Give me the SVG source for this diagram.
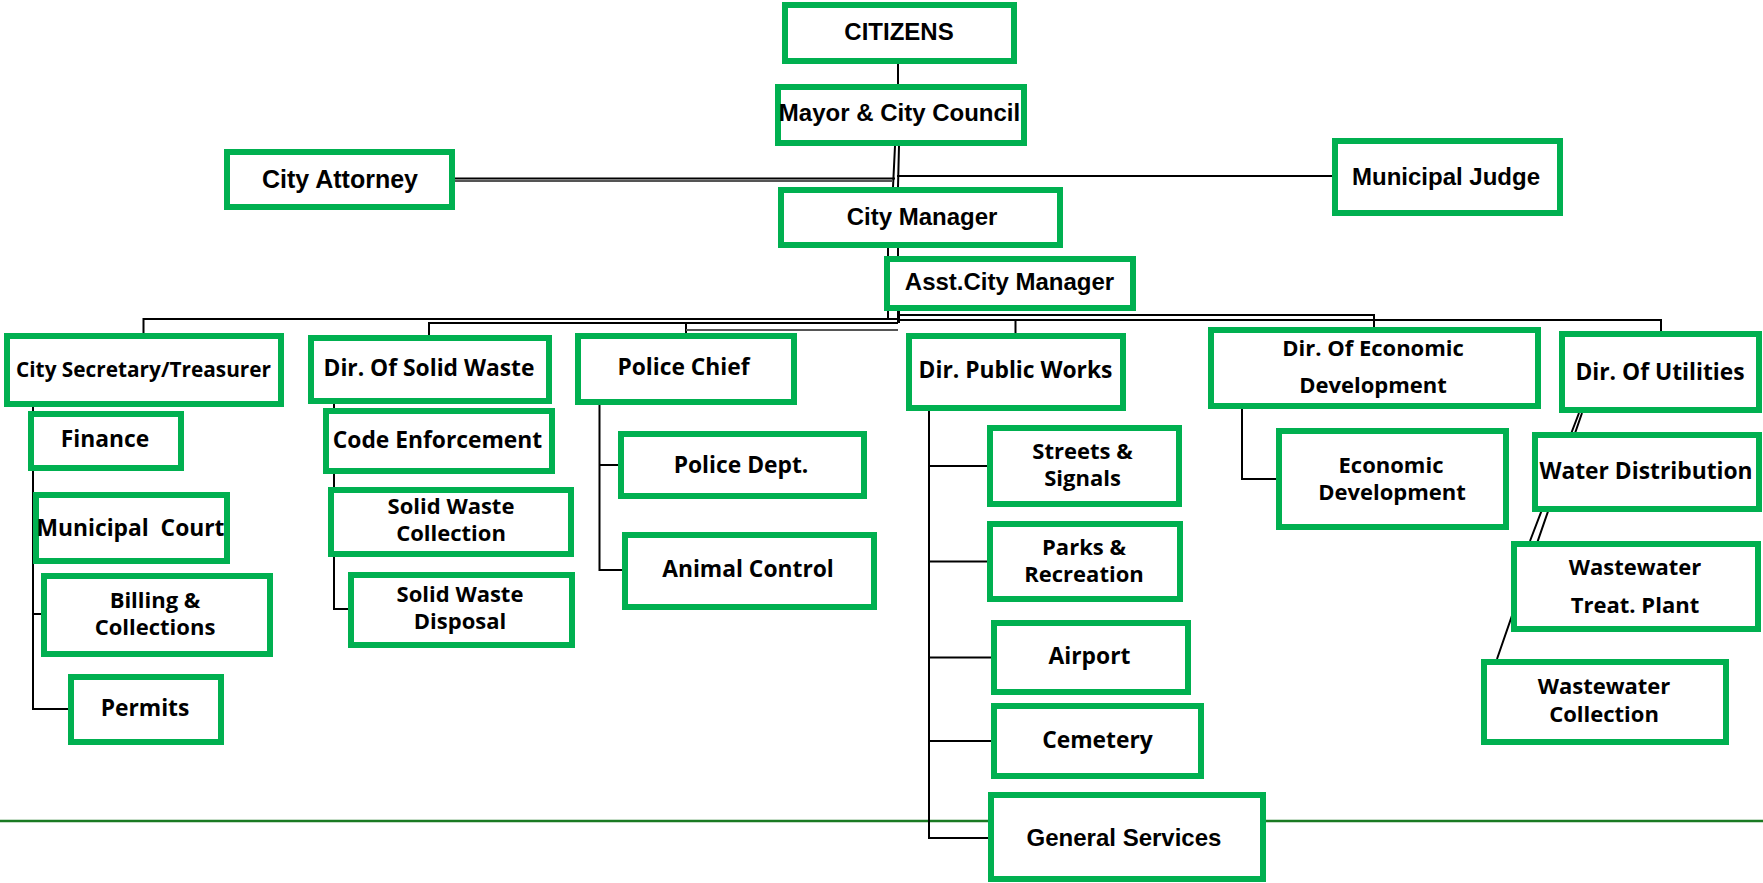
<svg xmlns="http://www.w3.org/2000/svg" width="1763" height="883" viewBox="0 0 1763 883">
<style>
.bx{fill:#fff;stroke:#00b050;stroke-width:6}
.ln{stroke:#000;stroke-width:2;fill:none}
.lg{stroke:#555;stroke-width:2;fill:none}
.t{font-family:"Open Sans","Liberation Sans",sans-serif;font-weight:700;font-size:22px;fill:#000;text-anchor:middle}
.s{font-size:22.8px}
.c{font-family:"Liberation Sans",Arial,sans-serif;font-weight:700;font-size:24px;fill:#000;text-anchor:middle}
</style>
<rect width="1763" height="883" fill="#fff"/>
<line x1="0" y1="821" x2="1763" y2="821" stroke="#1a7a22" stroke-width="2.5"/>
<g id="connectors">
<path class="ln" d="M898 64V84"/>
<path class="ln" d="M895 146L893 187M899 146L898 187"/>
<path class="ln" d="M455 178.5H895"/>
<path class="lg" d="M455 181H893" stroke-width="1"/>
<path class="ln" d="M897 176H1332"/>
<path class="ln" d="M888 248V319M898 248V323M899 311V323"/>
<path class="ln" d="M143.5 333V319H898"/>
<path class="ln" d="M429 335V323H898"/>
<path class="ln" d="M686 333V323"/>
<path class="lg" d="M686 330H898"/>
<path class="ln" d="M899 315H1374V327"/>
<path class="ln" d="M899 320H1661V331"/>
<path class="ln" d="M1015.5 320V333"/>
<path class="ln" d="M33 407V709H68M33 614H41"/>
<path class="ln" d="M334 404V609H348"/>
<path class="ln" d="M599.5 405V570H622M599.5 465H618"/>
<path class="ln" d="M929 411V838H988M929 466H987M929 561.5H987M929 657.5H991M929 741H991"/>
<path class="ln" d="M1242 409V479H1276"/>
<path class="ln" d="M1579 413L1530 541M1582 413L1497 659"/>
</g>
<g id="n-citizens"><rect class="bx" x="785" y="5" width="229" height="56"/><text class="c" x="899" y="40">CITIZENS</text></g>
<g id="n-mayor"><rect class="bx" x="778" y="87" width="246" height="56"/><text class="c" x="899.5" y="121">Mayor &amp; City Council</text></g>
<g id="n-attorney"><rect class="bx" x="227" y="152" width="225" height="55"/><text class="c" x="340" y="188" style="font-size:25px">City Attorney</text></g>
<g id="n-judge"><rect class="bx" x="1335" y="141" width="225" height="72"/><text class="c" x="1446" y="185">Municipal Judge</text></g>
<g id="n-manager"><rect class="bx" x="781" y="190" width="279" height="55"/><text class="c" x="922" y="225">City Manager</text></g>
<g id="n-asst"><rect class="bx" x="887" y="259" width="246" height="49"/><text class="c" x="1009.5" y="290">Asst.City Manager</text></g>
<g id="n-secretary"><rect class="bx" x="7" y="336" width="274" height="68"/><text class="t" x="143.5" y="377" style="font-size:20.8px">City Secretary/Treasurer</text></g>
<g id="n-solidwaste"><rect class="bx" x="311" y="338" width="238" height="63"/><text class="t s" x="429" y="376">Dir. Of Solid Waste</text></g>
<g id="n-police"><rect class="bx" x="578" y="336" width="216" height="66"/><text class="t s" x="683.5" y="375">Police Chief</text></g>
<g id="n-publicworks"><rect class="bx" x="909" y="336" width="214" height="72"/><text class="t s" x="1015.5" y="378">Dir. Public Works</text></g>
<g id="n-econdir"><rect class="bx" x="1211" y="330" width="327" height="76"/><text class="t" x="1373" y="356">Dir. Of Economic</text><text class="t" x="1373" y="393">Development</text></g>
<g id="n-utilities"><rect class="bx" x="1562" y="334" width="197" height="76"/><text class="t s" x="1660" y="380">Dir. Of Utilities</text></g>
<g id="n-finance"><rect class="bx" x="31" y="414" width="150" height="54"/><text class="t s" x="105" y="447">Finance</text></g>
<g id="n-court"><rect class="bx" x="36" y="495" width="191" height="66"/><text class="t s" x="130.5" y="536" xml:space="preserve">Municipal  Court</text></g>
<g id="n-billing"><rect class="bx" x="44" y="576" width="226" height="78"/><text class="t" x="155" y="608">Billing &amp;</text><text class="t" x="155" y="635">Collections</text></g>
<g id="n-permits"><rect class="bx" x="71" y="677" width="150" height="65"/><text class="t s" x="145" y="716">Permits</text></g>
<g id="n-code"><rect class="bx" x="326" y="411" width="226" height="60"/><text class="t s" x="437.5" y="448">Code Enforcement</text></g>
<g id="n-swcollection"><rect class="bx" x="331" y="490" width="240" height="64"/><text class="t" x="451" y="514">Solid Waste</text><text class="t" x="451" y="541">Collection</text></g>
<g id="n-swdisposal"><rect class="bx" x="351" y="575" width="221" height="70"/><text class="t" x="460" y="602">Solid Waste</text><text class="t" x="460" y="629">Disposal</text></g>
<g id="n-policedept"><rect class="bx" x="621" y="434" width="243" height="62"/><text class="t s" x="741" y="473">Police Dept.</text></g>
<g id="n-animal"><rect class="bx" x="625" y="535" width="249" height="72"/><text class="t s" x="748" y="577">Animal Control</text></g>
<g id="n-streets"><rect class="bx" x="990" y="428" width="189" height="76"/><text class="t" x="1082.5" y="459">Streets &amp;</text><text class="t" x="1082.5" y="486">Signals</text></g>
<g id="n-parks"><rect class="bx" x="990" y="524" width="190" height="75"/><text class="t" x="1084" y="555">Parks &amp;</text><text class="t" x="1084" y="582">Recreation</text></g>
<g id="n-airport"><rect class="bx" x="994" y="623" width="194" height="69"/><text class="t s" x="1089.5" y="664">Airport</text></g>
<g id="n-cemetery"><rect class="bx" x="994" y="706" width="207" height="70"/><text class="t s" x="1097.5" y="748">Cemetery</text></g>
<g id="n-general"><rect class="bx" x="991" y="795" width="272" height="84"/><text class="c" x="1124" y="846">General Services</text></g>
<g id="n-econdev"><rect class="bx" x="1279" y="431" width="227" height="96"/><text class="t" x="1391" y="473">Economic</text><text class="t" x="1392" y="500">Development</text></g>
<g id="n-water"><rect class="bx" x="1535" y="435" width="224" height="74"/><text class="t s" x="1646" y="479">Water Distribution</text></g>
<g id="n-wtp"><rect class="bx" x="1514" y="544" width="244" height="85"/><text class="t" x="1635" y="575">Wastewater</text><text class="t" x="1635" y="613">Treat. Plant</text></g>
<g id="n-wwcollection"><rect class="bx" x="1484" y="662" width="242" height="80"/><text class="t" x="1604" y="694">Wastewater</text><text class="t" x="1604" y="722">Collection</text></g>
</svg>
